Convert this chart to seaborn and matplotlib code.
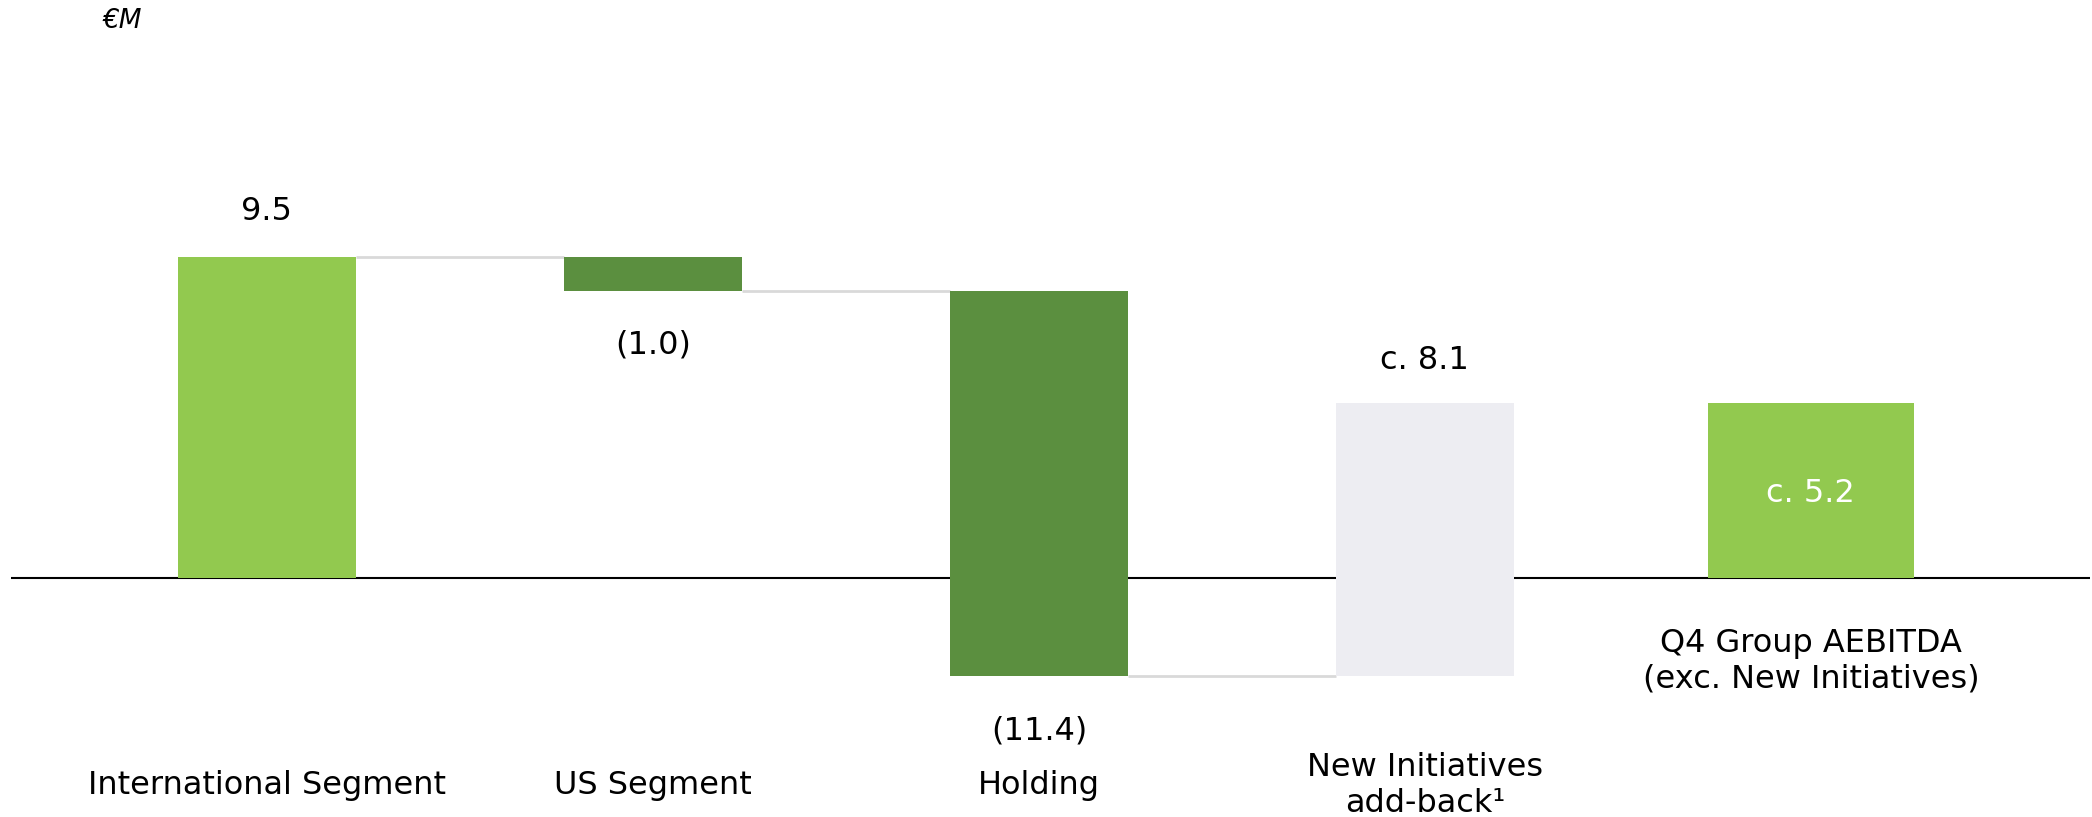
import matplotlib
matplotlib.use("Agg")
import matplotlib.pyplot as plt
import matplotlib.transforms as mtransforms
import seaborn as sns
import pandas as pd

# ---- data ----
categories = ["International Segment", "US Segment", "Holding",
              "New Initiatives add-back", "Q4 Group AEBITDA"]
changes = [9.5, -1.0, -11.4, 8.1, 5.2]
is_total = [False, False, False, False, True]
value_labels = ["9.5", "(1.0)", "(11.4)", "c. 8.1", "c. 5.2"]
axis_labels = ["International Segment", "US Segment", "Holding",
               "New Initiatives\nadd-back\u00b9",
               "Q4 Group AEBITDA\n(exc. New Initiatives)"]
bar_colors = ["#92C94F", "#5B8F3F", "#5B8F3F", "#EDEDF2", "#92C94F"]
unit_label = "\u20acM"

# ---- waterfall geometry from the data ----
bases, tops = [], []
running = 0.0
for c, tot in zip(changes, is_total):
    if tot:
        bases.append(0.0)
        tops.append(c)
    else:
        bases.append(running)
        running += c
        tops.append(running)

W, H, DPI = 2092, 817, 100
sns.set_theme(style="white")
plt.rcParams["font.family"] = ["DejaVu Sans"]

fig = plt.figure(figsize=(W / DPI, H / DPI), dpi=DPI)
ax = fig.add_axes([11 / W, 0, (2090 - 11) / W, 1])

widths = [0.461, 0.461, 0.461, 0.461, 0.534]
for i, cat in enumerate(categories):
    df = pd.DataFrame({"cat": [cat], "h": [tops[i] - bases[i]]})
    sns.barplot(data=df, x="cat", y="h", order=categories, bottom=bases[i],
                color=bar_colors[i], saturation=1, width=widths[i],
                errorbar=None, linewidth=0, ax=ax, zorder=3)

# baseline
ax.axhline(0, color="black", lw=1.5, zorder=2)

# connectors
for i in range(3):
    level = tops[i]
    x0 = i + widths[i] / 2
    x1 = i + 1 - widths[i + 1] / 2
    ax.plot([x0, x1], [level, level], color="#D9D9D9", lw=2.0, zorder=1,
            solid_capstyle="butt")

ax.set_xlim(-0.663, 4.723)
ax.set_ylim(-7.06, 17.12)
ax.set_axis_off()

FS = 23
# value labels (offsets in pixels -> points)
offs = [37, -62, -63, 34]
for i in range(4):
    ax.annotate(value_labels[i], xy=(i, tops[i]), xytext=(0, offs[i] * 0.72),
                textcoords="offset points", ha="center", va="baseline",
                fontsize=FS, color="black")
ax.annotate(value_labels[4], xy=(4, tops[4] / 2), xytext=(0, -2),
            textcoords="offset points", ha="center", va="center",
            fontsize=FS, color="white")

# category labels (x in data, y in figure pixels from top)
trans = mtransforms.blended_transform_factory(ax.transData, fig.transFigure)
lab_base = [794, 794, 794, 812, 688]
for i, lab in enumerate(axis_labels):
    ax.text(i, 1 - lab_base[i] / H, lab, transform=trans, ha="center",
            va="baseline", fontsize=FS, color="black", linespacing=1.2,
            multialignment="center")

fig.text(103 / W, 1 - 28 / H, unit_label, ha="left", va="baseline",
         fontsize=19, fontstyle="italic", color="black")

fig.savefig("out.png", dpi=DPI, facecolor="white")
